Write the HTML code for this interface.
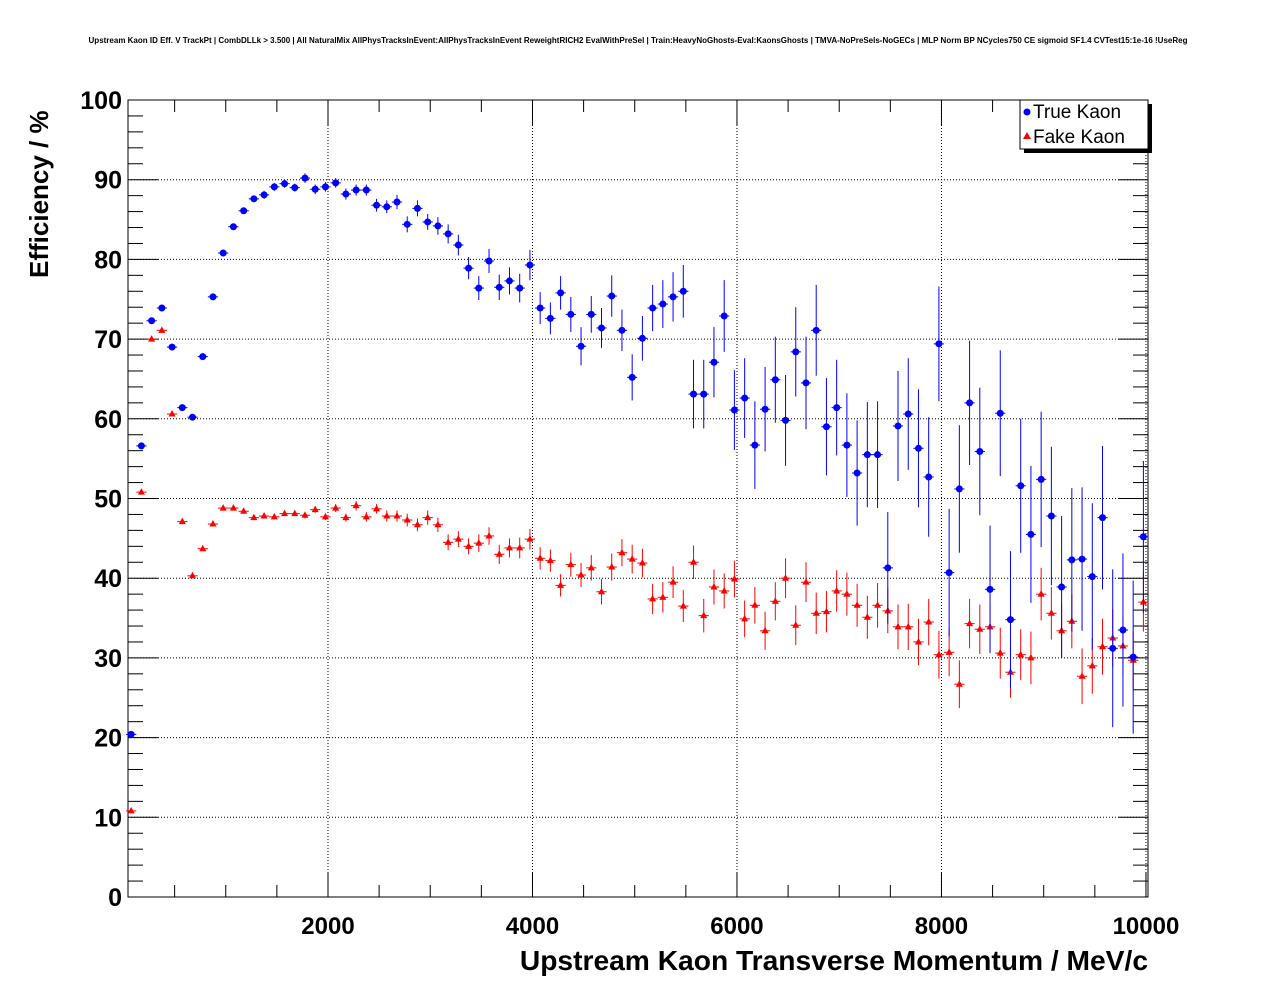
<!DOCTYPE html>
<html><head><meta charset="utf-8"><style>
body{margin:0;background:#fff;}
svg{display:block;font-family:"Liberation Sans",sans-serif;}
</style></head><body>
<svg id="chart" width="1276" height="996" viewBox="0 0 1276 996">
<rect x="0" y="0" width="1276" height="996" fill="#fff"/>
<text x="638" y="43" font-size="8" font-weight="bold" text-anchor="middle">Upstream Kaon ID Eff. V TrackPt | CombDLLk &gt; 3.500 | All NaturalMix AllPhysTracksInEvent:AllPhysTracksInEvent ReweightRICH2 EvalWithPreSel | Train:HeavyNoGhosts-Eval:KaonsGhosts | TMVA-NoPreSels-NoGECs | MLP Norm BP NCycles750 CE sigmoid SF1.4 CVTest15:1e-16 !UseReg</text>
<g id="grid"></g>
<g id="axes"></g>
<g id="marks"></g>
<text x="1148" y="970" font-size="28.2" font-weight="bold" text-anchor="end">Upstream Kaon Transverse Momentum / MeV/c</text>
<text transform="translate(48,278) rotate(-90)" font-size="26" font-weight="bold" text-anchor="start">Efficiency / %</text>
<g>
<rect x="1024" y="104" width="128" height="49" fill="#000"/>
<rect x="1020" y="100" width="128" height="49" fill="#fff" stroke="#000" stroke-width="1"/>
<circle cx="1027" cy="112" r="3.5" fill="#0000ff"/>
<text x="1033" y="118" font-size="19">True Kaon</text>
<polygon points="1027,132 1031,139 1023,139" fill="#ff0000"/>
<text x="1033" y="143" font-size="19">Fake Kaon</text>
</g>
</svg>
<script>
const xTicks=[2000,4000,6000,8000,10000];
const yTicks=[0,10,20,30,40,50,60,70,80,90,100];
const trueVals=[20.4,56.6,72.3,73.9,69.0,61.4,60.2,67.8,75.3,80.8,84.1,86.1,87.6,88.1,89.1,89.5,89.0,90.2,88.8,89.1,89.6,88.2,88.7,88.7,86.8,86.6,87.2,84.4,86.4,84.7,84.2,83.2,81.8,78.9,76.4,79.8,76.5,77.3,76.4,79.3,73.9,72.6,75.8,73.1,69.1,73.1,71.4,75.4,71.1,65.2,70.1,73.9,74.4,75.3,76.0,63.1,63.1,67.1,72.9,61.1,62.6,56.7,61.2,64.9,59.8,68.4,64.5,71.1,59.0,61.4,56.7,53.2,55.5,55.5,41.3,59.1,60.6,56.3,52.7,69.4,40.7,51.2,62.0,55.9,38.6,60.7,34.8,51.6,45.5,52.4,47.8,38.9,42.3,42.4,40.2,47.6,31.2,33.5,30.1,45.2];
const trueErr=[0.3,0.4,0.4,0.4,0.4,0.4,0.4,0.4,0.4,0.4,0.4,0.4,0.4,0.5,0.5,0.5,0.5,0.6,0.6,0.6,0.6,0.7,0.7,0.7,0.8,0.8,0.9,1.0,1.0,1.0,1.1,1.2,1.3,1.4,1.5,1.5,1.6,1.7,1.8,1.9,2.0,2.0,2.1,2.2,2.4,2.3,2.5,2.6,2.6,2.9,2.8,2.9,3.0,3.1,3.3,4.3,4.3,4.4,4.5,5.0,5.0,5.5,5.3,5.4,5.7,5.6,5.8,5.7,6.1,6.0,6.5,6.6,6.6,6.7,7.0,6.9,7.0,7.4,7.5,7.2,8.0,8.0,7.8,8.0,8.0,7.9,8.6,8.4,8.6,8.5,8.7,8.9,9.0,9.0,9.2,9.0,9.9,9.6,9.6,9.5];
const fakeVals=[10.8,50.8,70.0,71.1,60.6,47.1,40.3,43.7,46.8,48.8,48.8,48.4,47.6,47.8,47.7,48.1,48.1,47.9,48.6,47.7,48.8,47.6,49.1,47.7,48.7,47.8,47.8,47.3,46.7,47.6,46.7,44.5,44.9,44.0,44.4,45.3,43.0,43.8,43.8,44.9,42.5,42.2,39.1,41.7,40.4,41.3,38.3,41.4,43.2,42.4,41.9,37.4,37.6,39.5,36.5,42.0,35.3,38.9,38.4,39.9,34.9,36.6,33.4,37.1,40.0,34.1,39.5,35.6,35.8,38.4,38.0,36.6,35.1,36.6,35.9,33.9,33.9,32.0,34.5,30.4,30.7,26.7,34.3,33.6,33.9,30.6,28.2,30.4,30.0,38.0,35.6,33.4,34.6,27.7,29.0,31.4,32.5,31.5,29.7,37.0];
const fakeErr=[0.2,0.3,0.3,0.3,0.3,0.3,0.3,0.3,0.3,0.3,0.3,0.3,0.3,0.3,0.3,0.3,0.3,0.4,0.4,0.4,0.5,0.5,0.6,0.6,0.6,0.7,0.7,0.8,0.8,0.9,0.9,1.0,1.0,1.0,1.1,1.1,1.2,1.2,1.3,1.3,1.4,1.4,1.4,1.5,1.5,1.6,1.6,1.7,1.7,1.8,1.8,1.9,1.9,2.0,2.0,2.1,2.1,2.2,2.2,2.3,2.3,2.3,2.4,2.4,2.5,2.5,2.5,2.6,2.6,2.6,2.7,2.7,2.7,2.8,2.8,2.8,2.9,2.9,2.9,3.0,3.0,3.0,3.1,3.1,3.1,3.2,3.2,3.2,3.3,3.3,3.3,3.4,3.4,3.5,3.5,3.5,3.6,3.6,3.6,3.7];
const binStart=25, binWidth=100;
const X0=128,X1=1148,Y0=897,Y1=100,XMIN=44,XMAX=10020,YMIN=0,YMAX=100;
function sx(v){return X0+(v-XMIN)/(XMAX-XMIN)*(X1-X0);}
function sy(v){return Y0-(v-YMIN)/(YMAX-YMIN)*(Y0-Y1);}
const NS='http://www.w3.org/2000/svg';
function mk(tag,attrs,parent){const e=document.createElementNS(NS,tag);for(const k in attrs)e.setAttribute(k,attrs[k]);parent.appendChild(e);return e;}
const grid=document.getElementById('grid'),axes=document.getElementById('axes'),marks=document.getElementById('marks');
xTicks.forEach(t=>{if(t<XMAX){const l=mk('line',{x1:sx(t),x2:sx(t),y1:Y0,y2:Y1,stroke:'#000','stroke-width':1,'stroke-dasharray':'1,2'},grid);

}});
yTicks.forEach(t=>{if(t>YMIN&&t<YMAX){const l=mk('line',{x1:X0,x2:X1,y1:sy(t),y2:sy(t),stroke:'#000','stroke-width':1,'stroke-dasharray':'1,2'},grid);

}});
const frame=mk('rect',{x:X0,y:Y1,width:X1-X0,height:Y0-Y1,fill:'none',stroke:'#000','stroke-width':1},axes);


for(let v=500;v<=XMAX;v+=500){const major=v%2000===0;const len=major?25:12;
mk('line',{x1:sx(v),x2:sx(v),y1:Y0,y2:Y0-len,stroke:'#000'},axes);
mk('line',{x1:sx(v),x2:sx(v),y1:Y1,y2:Y1+len,stroke:'#000'},axes);}
for(let v=0;v<=YMAX;v+=2){const major=v%10===0;const len=major?30:15;
mk('line',{x1:X0,x2:X0+len,y1:sy(v),y2:sy(v),stroke:'#000'},axes);
mk('line',{x1:X1,x2:X1-len,y1:sy(v),y2:sy(v),stroke:'#000'},axes);}
xTicks.forEach(t=>{const tx=mk('text',{x:sx(t),y:Y0+37,'font-size':24,'font-weight':'bold','text-anchor':'middle'},axes);tx.textContent=t;

});
yTicks.forEach(t=>{const tx=mk('text',{x:X0-6,y:sy(t)+9,'font-size':25,'font-weight':'bold','text-anchor':'end'},axes);tx.textContent=t;

});
function series(vals,errs,color,shape,name){
 vals.forEach((v,i)=>{const lo=binStart+i*binWidth,c=lo+binWidth/2;const cx=sx(c),cy=sy(v);
  const g=mk('g',{},marks);
  
  
  mk('line',{x1:sx(lo),x2:sx(lo+binWidth),y1:cy,y2:cy,stroke:color,'stroke-width':1},g);
  mk('line',{x1:cx,x2:cx,y1:sy(v-errs[i]),y2:sy(v+errs[i]),stroke:color,'stroke-width':1},g);
  if(shape==='c')mk('circle',{cx:cx,cy:cy,r:3.5,fill:color},g);
  else mk('polygon',{points:`${cx},${cy-4} ${cx+3.5},${cy+2.5} ${cx-3.5},${cy+2.5}`,fill:color},g);
 });
}
series(fakeVals,fakeErr,'#ff0000','t','fake-kaon');
series(trueVals,trueErr,'#0000ff','c','true-kaon');
</script>
</body></html>
